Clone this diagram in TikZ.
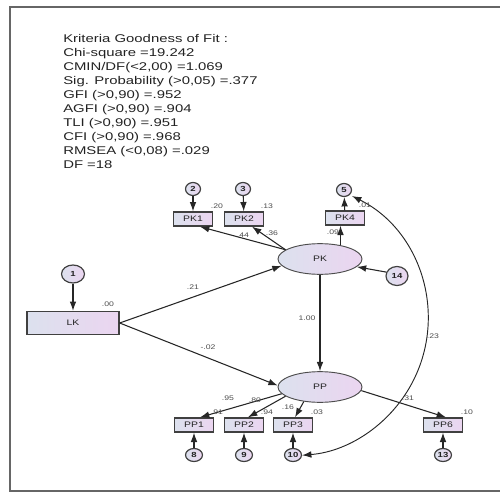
\documentclass[tikz,border=0pt]{standalone}
\usepackage{fontspec}
\setmainfont{Liberation Sans}
\usepackage{graphicx}
\usetikzlibrary{arrows.meta,shapes.geometric,calc}
\definecolor{fA}{HTML}{DCE1EE}
\definecolor{fB}{HTML}{EBD5F0}
\definecolor{frm}{HTML}{666666}
\definecolor{txt}{HTML}{222222}
\newcommand{\hs}[1]{\scalebox{1.3}[1]{#1}}
\newcommand{\hsb}[1]{\scalebox{1.33}[1]{#1}}
\tikzset{
  box/.style={rectangle, draw=black!75, line width=1pt, left color=fA, right color=fB,
    inner sep=0pt, minimum width=29pt, minimum height=10.5pt,
    font=\fontsize{6}{7}\selectfont, text=txt},
  lat/.style={ellipse, draw=black!70, line width=0.7pt, left color=fA, right color=fB,
    inner sep=0pt, minimum width=63pt, minimum height=23pt,
    font=\fontsize{6}{7}\selectfont, text=txt},
  err/.style={ellipse, draw=black!75, line width=0.9pt, left color=fA, right color=fB,
    inner sep=0pt, minimum width=12.75pt, minimum height=9.75pt,
    font=\bfseries\fontsize{5.5}{6}\selectfont, text=txt},
  lab/.style={font=\fontsize{5}{6}\selectfont, text=black!70, inner sep=0pt},
  arr/.style={-{Latex[length=7pt,width=5pt]}, line width=0.8pt, draw=black!85},
  dbl/.style={{Latex[length=7pt,width=5pt]}-{Latex[length=7pt,width=5pt]}, line width=0.7pt, draw=black!85},
  fit/.style={font=\fontsize{8.4}{10}\selectfont, text=txt, anchor=base west, inner sep=0pt}
}
\begin{document}
\begin{tikzpicture}[x=0.75pt,y=-0.75pt]
\useasboundingbox (0,0) rectangle (500,492);
% frame
\draw[frm, line width=1.4pt] (500,7) -- (10,7) -- (10,491) -- (500,491);
% fit statistics
\foreach \t [count=\i] in {{Kriteria Goodness of Fit :},{Chi-square =19.242},{CMIN/DF(<2,00) =1.069},{Sig. Probability (>0,05) =.377},{GFI (>0,90) =.952},{AGFI (>0,90) =.904},{TLI (>0,90) =.951},{CFI (>0,90) =.968},{RMSEA (<0,08) =.029},{DF =18}}
  \node[fit] (fit\i) at (63,{42.3+14*(\i-1)}) {\hsb{\t}};
% nodes
\node[box, minimum width=69pt, minimum height=17.25pt] (LK) at (73,323) {\hs{LK}};
\node[err, minimum width=17.25pt, minimum height=13.5pt] (e1) at (73,274) {\hs{1}};
\node[lat] (PK) at (320,259) {\hs{PK}};
\node[lat] (PP) at (320,387) {\hs{PP}};
\node[box] (PK1) at (193,219) {\hs{PK1}};
\node[box] (PK2) at (244,219) {\hs{PK2}};
\node[box] (PK4) at (345,218) {\hs{PK4}};
\node[err, minimum width=11.25pt] (e2) at (193,189) {\hs{2}};
\node[err, minimum width=11.25pt] (e3) at (243,189) {\hs{3}};
\node[err, minimum width=11.25pt] (e5) at (344,190) {\hs{5}};
\node[err, minimum width=16.5pt, minimum height=14.25pt] (e14) at (397,276) {\hs{14}};
\node[box] (PP1) at (194,425) {\hs{PP1}};
\node[box] (PP2) at (244,425) {\hs{PP2}};
\node[box] (PP3) at (293,425) {\hs{PP3}};
\node[box] (PP6) at (443,425) {\hs{PP6}};
\node[err] (e8) at (194,455) {\hs{8}};
\node[err] (e9) at (244,455) {\hs{9}};
\node[err] (e10) at (293,455) {\hs{10}};
\node[err] (e13) at (443,455) {\hs{13}};
% connectors
\draw[arr] (e1) -- (LK);
\draw[arr] (e2) -- (PK1);
\draw[arr] (e3) -- (PK2);
\draw[arr] (PK4) -- (e5);
\draw[arr] (PK.34) -- (PK.34 |- PK4.south);
\draw[arr] (PK.165) -- ($(PK1.south)+(7,0)$);
\draw[arr] (PK.165) -- ($(PK2.south)+(8,0)$);
\draw[arr] (e14.160) -- (PK.-12);
\draw[arr] (LK.east) -- (PK.190);
\draw[arr] (LK.east) -- (PP.178);
\draw[arr] (PK) -- (PP);
\draw[arr] (PP.190) -- ($(PP1.north)+(6,0)$);
\draw[arr] (PP.195) -- ($(PP2.north)+(4,0)$);
\draw[arr] (PP.222) -- ($(PP3.north)+(2,0)$);
\draw[arr] (PP.-5) -- ($(PP6.north)+(3,0)$);
\draw[arr] (e8) -- (PP1);
\draw[arr] (e9) -- (PP2);
\draw[arr] (e10) -- (PP3);
\draw[arr] (e13) -- (PP6);
\coordinate (cA) at (352,196);
\draw[dbl] (cA) arc[start angle=-63.6, end angle=85.4, radius=137];
% labels
\node[lab] (l00) at (108,304) {\hs{.00}};
\node[lab] (l21) at (193,287) {\hs{.21}};
\node[lab] (l02) at (208,347) {\hs{-.02}};
\node[lab] (l20) at (217,206) {\hs{.20}};
\node[lab] (l13) at (267,206) {\hs{.13}};
\node[lab] (l01) at (365,205) {\hs{.01}};
\node[lab] (l44) at (243,235) {\hs{.44}};
\node[lab] (l36) at (272,233) {\hs{.36}};
\node[lab] (l09) at (333,232) {\hs{.09}};
\node[lab] (l100) at (307,318) {\hs{1.00}};
\node[lab] (l23) at (433,336) {\hs{.23}};
\node[lab] (l95) at (228,398) {\hs{.95}};
\node[lab] (l80) at (255,400) {\hs{.80}};
\node[lab] (l91) at (217,412) {\hs{.91}};
\node[lab] (l94) at (267,412) {\hs{.94}};
\node[lab] (l16) at (288,407) {\hs{.16}};
\node[lab] (l03) at (317,412) {\hs{.03}};
\node[lab] (l31) at (408,398) {\hs{.31}};
\node[lab] (l10) at (467,412) {\hs{.10}};
\end{tikzpicture}
\end{document}
